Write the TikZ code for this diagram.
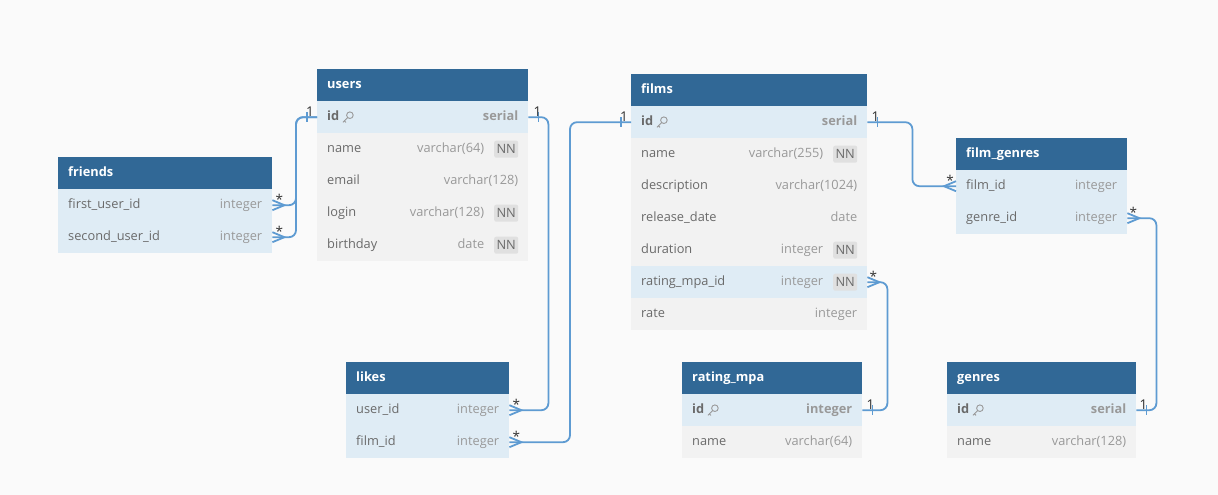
\documentclass[tikz,border=0pt]{standalone}
\usepackage{fontspec}
\setmainfont{Open Sans}
\usetikzlibrary{calc}
\definecolor{bgc}{HTML}{FAFAFA}
\definecolor{hdrc}{HTML}{316896}
\definecolor{keyrowc}{HTML}{DFECF5}
\definecolor{plainrowc}{HTML}{F2F2F2}
\definecolor{fieldc}{HTML}{6A6A6A}
\definecolor{typec}{HTML}{999999}
\definecolor{nnbgc}{HTML}{E0E0E0}
\definecolor{connc}{HTML}{5E9BD2}
\definecolor{cardc}{HTML}{333333}
\tikzset{
  tbl/.style={draw=none, inner sep=0pt, anchor=north west, minimum height=32},
  hdrbox/.style={tbl, fill=hdrc},
  keybox/.style={tbl, fill=keyrowc},
  plainbox/.style={tbl, fill=plainrowc},
  ttl/.style={anchor=west, text=white, font=\fontsize{12.8}{14}\selectfont\bfseries, inner sep=0pt, text height=9, text depth=3},
  fld/.style={anchor=west, text=fieldc, font=\fontsize{12.8}{14}\selectfont, inner sep=0pt, text height=9, text depth=3},
  typ/.style={anchor=east, text=typec, font=\fontsize{12.8}{14}\selectfont, inner sep=0pt, text height=9, text depth=3},
  nnbadge/.style={fill=nnbgc, rounded corners=2, anchor=east, text=fieldc, font=\fontsize{12.8}{14}\selectfont, inner sep=0pt, minimum width=24, minimum height=17},
  connline/.style={draw=connc, line width=1.8, rounded corners=7},
  connend/.style={draw=connc, line width=1.8},
  card/.style={text=cardc, font=\fontsize{13.5}{15}\selectfont, inner sep=1pt},
  keyic/.style={draw=typec, line width=0.9}
}
\newcommand\ertitle[5]{\node[hdrbox, minimum width=#4] (#1) at (#2,#3) {}; \node[ttl] at ([xshift=10]#1.west) {#5};}
\newcommand\errow[8]{\node[#5, minimum width=#4] (#1) at (#2,#3) {};
  \node[fld] (#1-f) at ([xshift=10]#1.west) {#6};
  \node[typ] (#1-t) at ([xshift=-#8]#1.east) {#7};}
\newcommand\nnmark[1]{\node[nnbadge] at ([xshift=-10]#1.east) {NN};}
\newcommand\keymark[1]{%
  \draw[keyic] ([xshift=10.5,yshift=2]#1-f.east) circle (3.3);
  \draw[keyic] ([xshift=8.2,yshift=-0.4]#1-f.east) -- ([xshift=3.5,yshift=-5.1]#1-f.east);
  \draw[keyic] ([xshift=5,yshift=-3.6]#1-f.east) -- ([xshift=6.6,yshift=-5.2]#1-f.east);}
\newcommand\crowE[1]{\draw[connend] ([yshift=5]#1) -- ([xshift=12]#1) -- ([yshift=-5]#1);}
\newcommand\crowW[1]{\draw[connend] ([yshift=5]#1) -- ([xshift=-12]#1) -- ([yshift=-5]#1);}
\newcommand\tickmark[2]{\draw[connend] ([xshift=#2,yshift=5]#1) -- ([xshift=#2,yshift=-5]#1);}
\begin{document}
\begin{tikzpicture}[x=1pt,y=-1pt]
\fill[bgc] (0,0) rectangle (1218,495);
\useasboundingbox (0,0) rectangle (1218,495);

% friends
\ertitle{friends}{58}{157}{214}{friends}
\errow{friends-first}{58}{189}{214}{keybox}{first\_user\_id}{integer}{10}
\errow{friends-second}{58}{221}{214}{keybox}{second\_user\_id}{integer}{10}

% users
\ertitle{users}{317}{69}{211}{users}
\errow{users-id}{317}{101}{211}{keybox}{\bfseries id}{\bfseries serial}{10}
\keymark{users-id}
\errow{users-name}{317}{133}{211}{plainbox}{name}{varchar(64)}{44}
\nnmark{users-name}
\errow{users-email}{317}{165}{211}{plainbox}{email}{varchar(128)}{10}
\errow{users-login}{317}{197}{211}{plainbox}{login}{varchar(128)}{44}
\nnmark{users-login}
\errow{users-birthday}{317}{229}{211}{plainbox}{birthday}{date}{44}
\nnmark{users-birthday}

% films
\ertitle{films}{631}{74}{236}{films}
\errow{films-id}{631}{106}{236}{keybox}{\bfseries id}{\bfseries serial}{10}
\keymark{films-id}
\errow{films-name}{631}{138}{236}{plainbox}{name}{varchar(255)}{44}
\nnmark{films-name}
\errow{films-desc}{631}{170}{236}{plainbox}{description}{varchar(1024)}{10}
\errow{films-release}{631}{202}{236}{plainbox}{release\_date}{date}{10}
\errow{films-duration}{631}{234}{236}{plainbox}{duration}{integer}{44}
\nnmark{films-duration}
\errow{films-rating}{631}{266}{236}{keybox}{rating\_mpa\_id}{integer}{44}
\nnmark{films-rating}
\errow{films-rate}{631}{298}{236}{plainbox}{rate}{integer}{10}

% film_genres
\ertitle{fg}{956}{138}{171}{film\_genres}
\errow{fg-film}{956}{170}{171}{keybox}{film\_id}{integer}{10}
\errow{fg-genre}{956}{202}{171}{keybox}{genre\_id}{integer}{10}

% likes
\ertitle{likes}{346}{362}{163}{likes}
\errow{likes-user}{346}{394}{163}{keybox}{user\_id}{integer}{10}
\errow{likes-film}{346}{426}{163}{keybox}{film\_id}{integer}{10}

% rating_mpa
\ertitle{rating}{682}{362}{180}{rating\_mpa}
\errow{rating-id}{682}{394}{180}{keybox}{\bfseries id}{\bfseries integer}{10}
\keymark{rating-id}
\errow{rating-name}{682}{426}{180}{plainbox}{name}{varchar(64)}{10}

% genres
\ertitle{genres}{947}{362}{189}{genres}
\errow{genres-id}{947}{394}{189}{keybox}{\bfseries id}{\bfseries serial}{10}
\keymark{genres-id}
\errow{genres-name}{947}{426}{189}{plainbox}{name}{varchar(128)}{10}

% connectors
\draw[connline] (users-id.west) -- ++(-21,0) |- (friends-first.east);
\draw[connline] (users-id.west) -- ++(-21,0) |- (friends-second.east);
\tickmark{users-id.west}{-10}
\crowE{friends-first.east}
\crowE{friends-second.east}
\node[card, anchor=south] at ([xshift=-7,yshift=0]users-id.west) {1};
\node[card, anchor=south] at ([xshift=7,yshift=0]friends-first.east) {*};
\node[card, anchor=south] at ([xshift=7,yshift=0]friends-second.east) {*};

\draw[connline] (users-id.east) -- ++(20,0) |- (likes-user.east);
\tickmark{users-id.east}{10}
\crowE{likes-user.east}
\node[card, anchor=south] at ([xshift=9,yshift=0]users-id.east) {1};
\node[card, anchor=south] at ([xshift=7,yshift=0]likes-user.east) {*};

\draw[connline] (films-id.west) -- ++(-61,0) |- (likes-film.east);
\tickmark{films-id.west}{-10}
\crowE{likes-film.east}
\node[card, anchor=south] at ([xshift=-7,yshift=0]films-id.west) {1};
\node[card, anchor=south] at ([xshift=7,yshift=0]likes-film.east) {*};

\draw[connline] (films-id.east) -- ++(45,0) |- (fg-film.west);
\tickmark{films-id.east}{10}
\crowW{fg-film.west}
\node[card, anchor=south] at ([xshift=8,yshift=0]films-id.east) {1};
\node[card, anchor=south] at ([xshift=-6,yshift=0]fg-film.west) {*};

\draw[connline] (fg-genre.east) -- ++(29,0) |- (genres-id.east);
\crowE{fg-genre.east}
\tickmark{genres-id.east}{10}
\node[card, anchor=south] at ([xshift=6,yshift=0]fg-genre.east) {*};
\node[card, anchor=south] at ([xshift=7,yshift=0]genres-id.east) {1};

\draw[connline] (films-rating.east) -- ++(20,0) |- (rating-id.east);
\crowE{films-rating.east}
\tickmark{rating-id.east}{10}
\node[card, anchor=south] at ([xshift=6,yshift=0]films-rating.east) {*};
\node[card, anchor=south] at ([xshift=8,yshift=0]rating-id.east) {1};
\end{tikzpicture}
\end{document}
